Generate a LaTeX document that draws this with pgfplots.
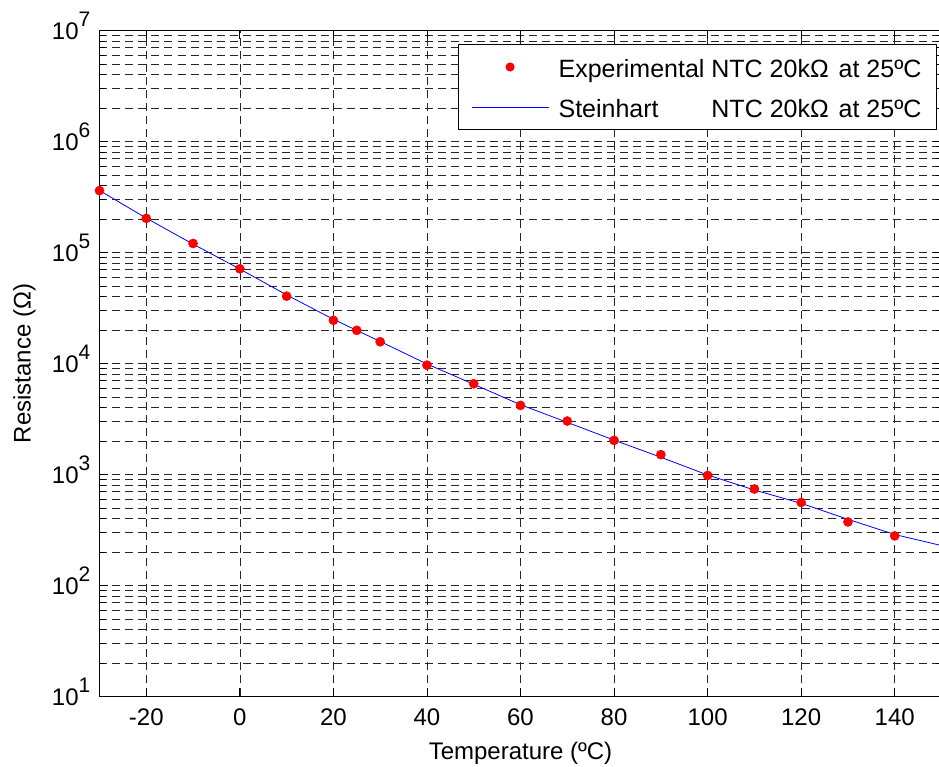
\documentclass[border=0pt]{standalone}
\usepackage{pgfplots}
\pgfplotsset{compat=1.18}
\usepackage{fontspec}
\setmainfont{Liberation Sans}
\definecolor{mblue}{RGB}{0,0,255}
\definecolor{mred}{RGB}{255,0,0}
\newcommand{\ex}[1]{\raisebox{12.5pt}{\fontsize{21}{21}\selectfont #1}}
\pgfplotstableread{
T R
-30 361000
-20 203000
-10 120600
0 71300
10 40400
20 24500
25 19900
30 15700
40 9660
50 6570
60 4190
70 3030
80 2030
90 1510
100 980
110 740
120 560
130 374
140 280
}\expdata
\pgfplotstableread{
T R
-30 362000
-20 204000
-10 119000
0 71000
10 41500
20 25000
30 15800
40 9900
50 6500
60 4250
70 2950
80 2040
90 1430
100 990
110 725
120 550
130 395
140 288
150 229
}\steinhart
\begin{document}
\fontsize{24}{28}\selectfont
\begin{tikzpicture}
\useasboundingbox (-99.5pt,-70.5pt) rectangle (839.5pt,696.5pt);
\begin{axis}[
  at={(0pt,0pt)}, anchor=south west,
  scale only axis, width=842pt, height=666pt,
  xmin=-30, xmax=150, ymode=log, ymin=10, ymax=1e7,
  xtick={-20,0,20,40,60,80,100,120,140},
  xticklabels={-20,0,20,40,60,80,100,120,140},
  ytick={10,100,1000,10000,100000,1000000,10000000},
  yticklabels={10\ex{1},10\ex{2},10\ex{3},10\ex{4},10\ex{5},10\ex{6},10\ex{7}},
  minor ytick={20,30,40,50,60,70,80,90,200,300,400,500,600,700,800,900,2000,3000,4000,5000,6000,7000,8000,9000,20000,30000,40000,50000,60000,70000,80000,90000,200000,300000,400000,500000,600000,700000,800000,900000,2000000,3000000,4000000,5000000,6000000,7000000,8000000,9000000},
  grid=both,
  major grid style={black!85, dash pattern=on 8pt off 5pt, line width=0.6pt},
  minor grid style={black!85, dash pattern=on 8pt off 5pt, line width=0.6pt},
  axis line style={black, line width=1pt},
  every tick/.style={black, line width=0.8pt},
  tick align=inside, major tick length=9pt, minor tick length=6pt,
  ticklabel style={font=\fontsize{24}{28}\selectfont},
  xticklabel style={anchor=base, yshift=-29.5pt},
  yticklabel style={anchor=base east, inner xsep=0pt, xshift=-9pt, yshift=-8.6pt},
  xlabel={Temperature (ºC)},
  ylabel={Resistance (Ω)},
  xlabel style={at={([yshift=-63.5pt]axis description cs:0.5,0)}, anchor=base, inner sep=0pt, font=\fontsize{24}{28}\selectfont},
  ylabel style={at={([xshift=-86.5pt]axis description cs:0,0.5)}, anchor=north, inner sep=0pt, font=\fontsize{24}{28}\selectfont},
  legend cell align=left,
  legend style={at={(axis description cs:1,1)}, anchor=north east, xshift=-4.5pt, yshift=-13.5pt,
    line width=1pt, inner xsep=13pt, inner ysep=8.7pt, row sep=12.7pt,
    nodes={inner sep=2pt, text height=22pt, text depth=1.6pt},
    /tikz/every odd column/.append style={column sep=8pt},
    font=\fontsize{25}{29}\selectfont},
]
\addplot[only marks, mark=*, mark size=4.6pt, color=mred, mark options={fill=mred, draw=mred},
  legend image code/.code={\path[draw=none, fill=mred] (38.5pt,0pt) circle[radius=4.6pt]; \path[draw=none] (0pt,0pt) -- (77pt,0pt);}] table[x=T, y=R] {\expdata};
\addlegendentry{Experimental NTC 20kΩ\hspace{3pt} at 25ºC}
\addplot[color=mblue, draw=mblue, line width=0.8pt, mark=none,
  legend image code/.code={\path[draw=none, fill=mblue] (0pt,-0.7pt) rectangle (77pt,0.7pt);}] table[x=T, y=R] {\steinhart};
\addlegendentry{\rlap{Steinhart}\hphantom{Experimental} NTC 20kΩ\hspace{3pt} at 25ºC}
\end{axis}
\end{tikzpicture}
\end{document}
